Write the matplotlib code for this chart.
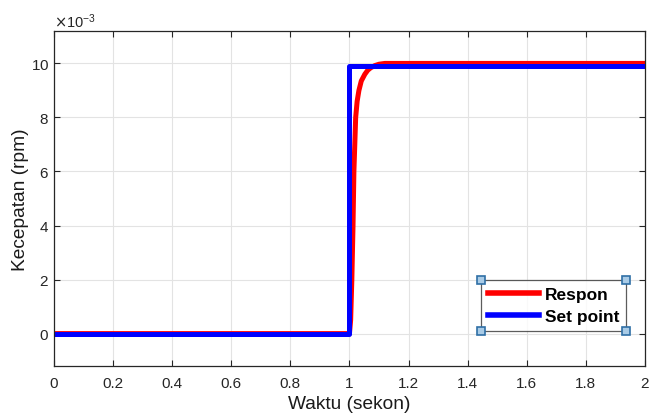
import matplotlib
matplotlib.use("Agg")
import matplotlib.pyplot as plt
from matplotlib.ticker import ScalarFormatter

plt.rcParams['font.family'] = ['Liberation Sans', 'DejaVu Sans']

# step response (speed in rpm, x1e-3)
t_resp = [0.0, 1.0, 1.004, 1.008, 1.012, 1.015, 1.021, 1.026, 1.032, 1.04, 1.052,
          1.062, 1.072, 1.086, 1.1, 1.12, 2.0]
y_resp = [0.0, 0.0, 0.5, 2.0, 4.0, 6.0, 8.0, 8.6, 9.0, 9.35, 9.6,
          9.75, 9.84, 9.92, 9.97, 10.0, 10.0]
t_sp = [0.0, 1.0, 1.0, 2.0]
y_sp = [0.0, 0.0, 9.9, 9.9]

x_ticks = [0, 0.2, 0.4, 0.6, 0.8, 1, 1.2, 1.4, 1.6, 1.8, 2]
x_ticklabels = ["0", "0.2", "0.4", "0.6", "0.8", "1", "1.2", "1.4", "1.6", "1.8", "2"]
y_ticks = [0, 2, 4, 6, 8, 10]

fig = plt.figure(figsize=(6.58, 4.14), dpi=100)
ax = fig.add_axes([0.0821, 0.1135, 0.898, 0.8092])

ax.plot(t_resp, [v * 1e-3 for v in y_resp], color="#ff0000", lw=3.6, label="Respon")
ax.plot(t_sp, [v * 1e-3 for v in y_sp], color="#0000ff", lw=3.6, label="Set point")

ax.set_xlim(0, 2)
ax.set_ylim(-1.2e-3, 11.2e-3)
ax.set_xticks(x_ticks)
ax.set_xticklabels(x_ticklabels)
ax.set_yticks([v * 1e-3 for v in y_ticks])

fmt = ScalarFormatter(useMathText=True)
fmt.set_powerlimits((-3, -3))
ax.yaxis.set_major_formatter(fmt)
ax.yaxis.get_offset_text().set_fontsize(10.5)
ax.yaxis.get_offset_text().set_color("#333333")

ax.grid(True, color="#e3e3e3", lw=0.8)
ax.set_axisbelow(True)
ax.tick_params(direction="in", top=True, right=True, labelsize=11,
               colors="#262626", length=4)
ax.tick_params(axis="x", pad=7)
for s in ax.spines.values():
    s.set_color("#262626")
    s.set_linewidth(0.9)

ax.set_xlabel("Waktu (sekon)", fontsize=13.8, color="#1a1a1a", labelpad=4)
ax.set_ylabel("Kecepatan (rpm)", fontsize=13.8, color="#1a1a1a", labelpad=1)

leg = ax.legend(loc="lower left", bbox_to_anchor=(0.7225, 0.1045, 0.2455, 0.155),
                mode="expand", frameon=True, fancybox=False, handlelength=2.9,
                prop={"weight": "bold", "size": 12.5}, borderaxespad=0,
                handletextpad=0.35, labelspacing=0.35, borderpad=0.42)
leg.get_frame().set_edgecolor("#333333")
leg.get_frame().set_linewidth(0.9)
for line in leg.get_lines():
    line.set_linewidth(4)

# selection handles at legend corners
fig.canvas.draw()
bb = leg.get_window_extent().transformed(ax.transAxes.inverted())
for xx in (bb.x0, bb.x1):
    for yy in (bb.y0, bb.y1):
        ax.plot([xx], [yy], marker="s", ms=6, mfc="#a9cbe6", mec="#2f6fa6",
                mew=1.2, transform=ax.transAxes, clip_on=False, zorder=10)

fig.savefig("out.png", dpi=100)
